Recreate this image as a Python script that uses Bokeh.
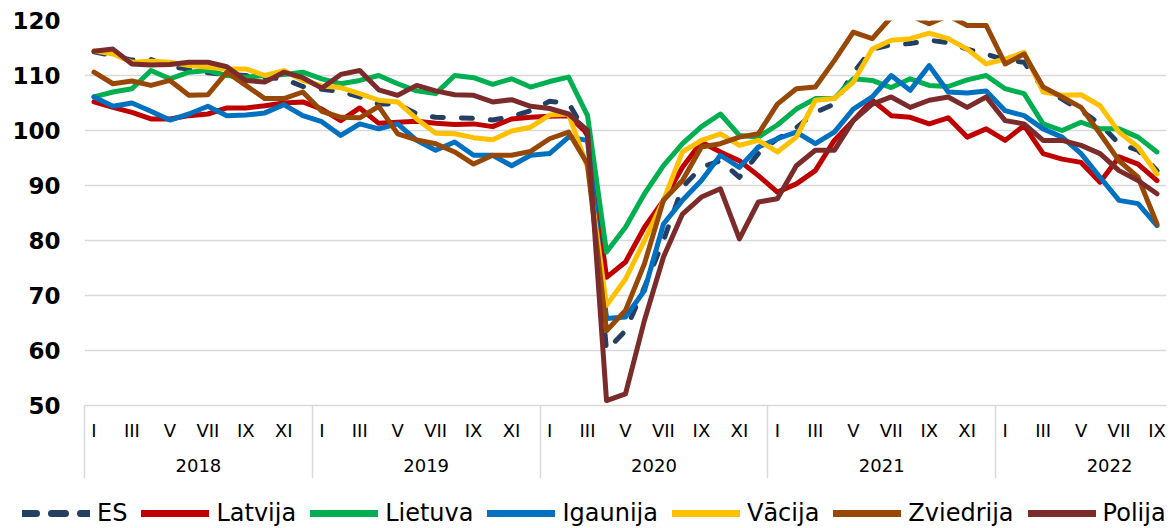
from bokeh.plotting import figure
from bokeh.models import Range1d, FixedTicker, LinearAxis, Legend, LegendItem, ColumnDataSource
from bokeh.embed import file_html
from bokeh.resources import INLINE

# ---------------- data ----------------
month_labels = ["I", "II", "III", "IV", "V", "VI", "VII", "VIII", "IX", "X", "XI", "XII"]
years = ["2018", "2019", "2020", "2021", "2022"]
months_in_year = [12, 12, 12, 12, 9]

series_names = ["ES", "Latvija", "Lietuva", "Igaunija", "Vācija", "Zviedrija", "Polija"]
series_colors = ["#243f64", "#c00000", "#00b050", "#0070c0", "#ffc000", "#974806", "#7b2c2a"]

es = [114.3, 113.6, 112.8, 112.9, 111.6, 111.2, 110.5, 110.2, 110.0, 109.6, 109.4, 108.0,
      107.5, 107.1, 106.1, 104.8, 104.8, 103.0, 102.4, 102.3, 102.2, 101.9, 102.5, 103.6,
      105.3, 105.0, 99.0, 60.0, 63.6, 71.5, 80.0, 89.7, 93.3, 94.5, 91.5, 95.8,
      98.5, 100.5, 103.3, 104.8, 110.5, 114.8, 115.6, 115.8, 116.4, 116.0, 114.8, 113.9,
      112.8, 112.4, 107.6, 105.7, 103.6, 101.2, 97.6, 96.4, 92.7]
latvija = [105.2, 104.2, 103.3, 102.1, 102.1, 102.7, 103.0, 104.1, 104.1, 104.5, 105.0, 105.2,
           103.9, 101.8, 104.1, 101.3, 101.5, 101.7, 101.3, 101.1, 101.2, 100.7, 102.1, 102.4,
           102.6, 102.7, 99.4, 73.3, 76.1, 82.4, 87.3, 93.3, 97.9, 96.1, 94.5, 91.8,
           88.8, 90.3, 92.7, 98.2, 101.8, 105.5, 102.7, 102.4, 101.2, 102.3, 98.8, 100.3,
           98.2, 100.9, 95.8, 94.8, 94.2, 90.6, 95.2, 93.9, 90.9]
lietuva = [106.1, 107.0, 107.6, 110.9, 109.4, 110.6, 110.9, 110.0, 109.7, 110.0, 110.2, 110.6,
           109.4, 108.5, 109.1, 110.0, 108.5, 107.2, 106.7, 110.0, 109.6, 108.4, 109.4, 107.9,
           108.9, 109.7, 102.7, 77.9, 82.4, 88.5, 93.6, 97.6, 100.7, 103.0, 99.1, 98.8,
           101.0, 103.9, 105.8, 105.8, 109.4, 109.1, 107.8, 109.4, 108.2, 108.0, 109.2, 110.0,
           107.6, 106.7, 101.2, 100.0, 101.5, 100.3, 100.3, 98.8, 96.1]
igaunija = [106.1, 104.4, 105.0, 103.5, 101.9, 103.0, 104.4, 102.7, 102.8, 103.2, 104.7, 102.7,
            101.6, 99.1, 101.2, 100.3, 101.2, 98.2, 96.4, 97.9, 95.5, 95.5, 93.6, 95.5,
            95.8, 98.8, 98.2, 65.8, 66.1, 70.9, 83.0, 87.3, 90.9, 95.5, 93.3, 97.0,
            98.5, 99.7, 97.6, 99.7, 103.9, 106.1, 110.0, 107.3, 111.8, 107.0, 106.8, 107.2,
            103.6, 102.7, 100.3, 98.8, 95.8, 91.5, 87.3, 86.7, 82.7]
vacija = [114.5, 113.9, 112.4, 112.6, 112.4, 111.8, 111.5, 111.2, 111.2, 110.0, 110.9, 109.1,
          108.1, 107.8, 106.7, 105.5, 105.2, 102.1, 99.5, 99.4, 98.7, 98.3, 99.9, 100.6,
          102.8, 103.0, 93.3, 68.2, 73.0, 80.0, 87.3, 96.1, 98.2, 99.4, 97.3, 98.2,
          96.1, 98.8, 105.5, 105.8, 108.8, 114.8, 116.4, 116.7, 117.7, 116.7, 114.8, 112.1,
          113.0, 114.2, 107.0, 106.4, 106.5, 104.5, 99.7, 97.0, 92.1]
zviedrija = [110.6, 108.5, 109.0, 108.2, 109.1, 106.4, 106.5, 110.6, 108.2, 105.8, 105.8, 107.0,
             103.5, 102.4, 102.3, 104.4, 99.4, 98.3, 97.6, 96.1, 93.9, 95.5, 95.5, 96.2,
             98.5, 99.7, 93.9, 63.6, 67.3, 75.8, 87.3, 90.9, 97.0, 97.6, 98.8, 99.4,
             104.8, 107.6, 107.9, 112.7, 117.9, 116.7, 120.6, 120.9, 119.4, 120.9, 119.1, 119.1,
             112.1, 113.9, 107.9, 106.1, 104.2, 99.4, 94.5, 91.5, 83.0]
polija = [114.4, 114.8, 112.1, 111.9, 112.0, 112.4, 112.4, 111.6, 109.1, 108.8, 110.6, 109.6,
          107.7, 110.2, 110.9, 107.4, 106.4, 108.2, 107.2, 106.5, 106.4, 105.2, 105.6, 104.4,
          104.0, 103.0, 100.0, 50.9, 52.1, 65.5, 77.0, 84.8, 87.9, 89.4, 80.3, 87.0,
          87.6, 93.6, 96.4, 96.4, 101.8, 104.8, 106.1, 104.2, 105.5, 106.1, 104.2, 106.1,
          101.8, 101.2, 98.2, 98.2, 97.3, 95.8, 92.7, 90.9, 88.5]

y_ticks = [50, 60, 70, 80, 90, 100, 110, 120]

all_series = [es, latvija, lietuva, igaunija, vacija, zviedrija, polija]

# ---------------- derived positions ----------------
n = sum(months_in_year)
xs = list(range(n))
year_starts = []
s = 0
for m in months_in_year:
    year_starts.append(s)
    s += m
month_ticks = []
month_overrides = {}
for ys, m in zip(year_starts, months_in_year):
    for k in range(0, m, 2):
        month_ticks.append(ys + k)
        month_overrides[ys + k] = month_labels[k]
separators = [ys - 0.5 for ys in year_starts]
year_centers = [ys + 5.5 for ys in year_starts]
year_overrides = {c: y for c, y in zip(year_centers, years)}

FONT = "DejaVu Sans"
GRID = "#d9d9d9"
SEP_LEN = 73
W = 1171

p = figure(width=W, height=478, output_backend="svg", toolbar_location=None,
           x_range=Range1d(-0.5, n - 0.5), y_range=Range1d(50, 120),
           x_axis_type=None, min_border_left=84, min_border_top=20,
           min_border_right=5, min_border_bottom=73)
p.outline_line_color = None
p.background_fill_color = "white"
p.border_fill_color = "white"

# y axis
p.yaxis.ticker = FixedTicker(ticks=y_ticks)
p.yaxis.axis_line_color = None
p.yaxis.major_tick_line_color = None
p.yaxis.major_tick_out = 0
p.yaxis.major_tick_in = 0
p.yaxis.minor_tick_line_color = None
p.yaxis.minor_tick_out = 0
p.yaxis.major_label_text_font = FONT
p.yaxis.major_label_text_font_style = "bold"
p.yaxis.major_label_text_font_size = "23px"
p.yaxis.major_label_text_color = "#000000"
p.yaxis.major_label_standoff = 24
p.ygrid.ticker = FixedTicker(ticks=y_ticks)
p.ygrid.grid_line_color = GRID
p.ygrid.grid_line_width = 1.5

# month axis with year separators as long minor ticks
ax1 = LinearAxis(ticker=FixedTicker(ticks=month_ticks, minor_ticks=separators),
                 major_label_overrides=month_overrides,
                 axis_line_color=GRID, axis_line_width=1.5,
                 major_tick_line_color=None, major_tick_in=0, major_tick_out=0,
                 minor_tick_line_color=GRID, minor_tick_line_width=1.5,
                 minor_tick_in=0, minor_tick_out=SEP_LEN,
                 major_label_standoff=14 - SEP_LEN,
                 major_label_text_font=FONT, major_label_text_font_size="18px",
                 major_label_text_color="#000000")
p.add_layout(ax1, "below")

ax2 = LinearAxis(ticker=FixedTicker(ticks=year_centers, minor_ticks=[]),
                 major_label_overrides=year_overrides,
                 axis_line_color=None, major_tick_line_color=None,
                 major_tick_in=0, major_tick_out=0, minor_tick_line_color=None,
                 major_label_standoff=15,
                 major_label_text_font=FONT, major_label_text_font_size="18px",
                 major_label_text_color="#000000")
p.add_layout(ax2, "below")

# legend in a separate strip (its helper lines lie outside its visible range)
lf = figure(width=W, height=50, output_backend="svg", toolbar_location=None,
            x_range=Range1d(-0.5, n - 0.5), y_range=Range1d(200, 201),
            x_axis_type=None, y_axis_type=None,
            min_border_left=0, min_border_right=0, min_border_top=0, min_border_bottom=0)
lf.outline_line_color = None
lf.xgrid.visible = False
lf.ygrid.visible = False

items = []
for name, col, vals in zip(series_names, series_colors, all_series):
    src = ColumnDataSource(dict(x=xs, y=vals))
    if name == "ES":
        p.line("x", "y", source=src, line_color=col, line_width=5,
               line_dash="11 18", line_cap="round", line_join="round")
        helper = lf.line("x", "y", source=src, line_color=col, line_width=7,
                         line_dash="14 15", line_cap="round")
    else:
        p.line("x", "y", source=src, line_color=col, line_width=5,
               line_cap="round", line_join="round")
        helper = lf.line("x", "y", source=src, line_color=col, line_width=7,
                         line_cap="round")
    items.append(LegendItem(label=name, renderers=[helper]))

legend = Legend(items=items, orientation="horizontal", location=(22, 1),
                glyph_width=68, glyph_height=26, label_standoff=7, spacing=14,
                padding=0, margin=0, border_line_color=None, background_fill_alpha=0,
                label_text_font=FONT, label_text_font_size="24px",
                label_text_color="#000000", label_height=26)
lf.add_layout(legend, "center")

open("out.html", "w").write(file_html([p, lf], INLINE))
